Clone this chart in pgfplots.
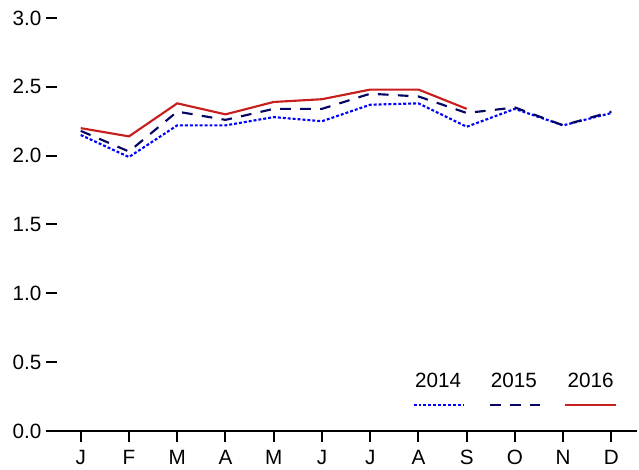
\documentclass[border=0pt]{standalone}
\usepackage{fontspec}
\setmainfont{Liberation Sans}
\usepackage{pgfplots}
\pgfplotsset{compat=1.18}
\definecolor{c14}{RGB}{0,0,255}
\definecolor{c15}{RGB}{5,5,100}
\definecolor{c16}{RGB}{200,30,30}
\begin{document}
\begin{tikzpicture}
\begin{axis}[
  scale only axis, width=443.25pt, height=309.75pt,
  xmin=0.28, xmax=12.53, ymin=0, ymax=3,
  axis x line=bottom, axis y line=left,
  axis line style={-, line width=1.5pt},
  y axis line style={draw=none},
  xtick={1,...,12}, xticklabels={J,F,M,A,M,J,J,A,S,O,N,D},
  ytick={0,0.5,...,3},
  yticklabel style={/pgf/number format/.cd, fixed, fixed zerofill, precision=1, assume math mode=true},
  xticklabel style={yshift=-3pt},
  major tick length=8pt,
  tick style={line width=1.5pt, black},
  xtick align=outside, ytick align=inside,
  tick label style={font=\fontsize{15.5}{18}\selectfont},
  clip=false,
]
\addplot[c14, line width=1.6pt, dash pattern=on 2.2pt off 1.5pt] coordinates {
(1,2.15)(2,1.99)(3,2.22)(4,2.22)(5,2.28)(6,2.25)(7,2.37)(8,2.38)(9,2.21)(10,2.34)(11,2.22)(12,2.31)};
\addplot[c15, line width=1.6pt, dash pattern=on 8pt off 7pt] coordinates {
(1,2.18)(2,2.03)(3,2.32)(4,2.26)(5,2.34)(6,2.34)(7,2.45)(8,2.43)(9,2.31)(10,2.35)(11,2.22)(12,2.32)};
\addplot[c16, line width=1.6pt] coordinates {
(1,2.20)(2,2.14)(3,2.38)(4,2.30)(5,2.39)(6,2.41)(7,2.48)(8,2.48)(9,2.34)};
\draw[c14, line width=1.6pt, dash pattern=on 2.2pt off 1.5pt] (axis cs:7.9,0.19) -- (axis cs:8.93,0.19);
\draw[c15, line width=1.6pt, dash pattern=on 8pt off 7pt] (axis cs:9.49,0.19) -- (axis cs:10.51,0.19);
\draw[c16, line width=1.6pt] (axis cs:11.04,0.19) -- (axis cs:12.09,0.19);
\node[font=\fontsize{15.5}{18}\selectfont] at (axis cs:8.41,0.364) {2014};
\node[font=\fontsize{15.5}{18}\selectfont] at (axis cs:9.98,0.364) {2015};
\node[font=\fontsize{15.5}{18}\selectfont] at (axis cs:11.57,0.364) {2016};
\path ([shift={(-34.5pt,-27.75pt)}]rel axis cs:0,0) rectangle ([shift={(1.5pt,13.5pt)}]rel axis cs:1,1);
\end{axis}
\end{tikzpicture}
\end{document}
